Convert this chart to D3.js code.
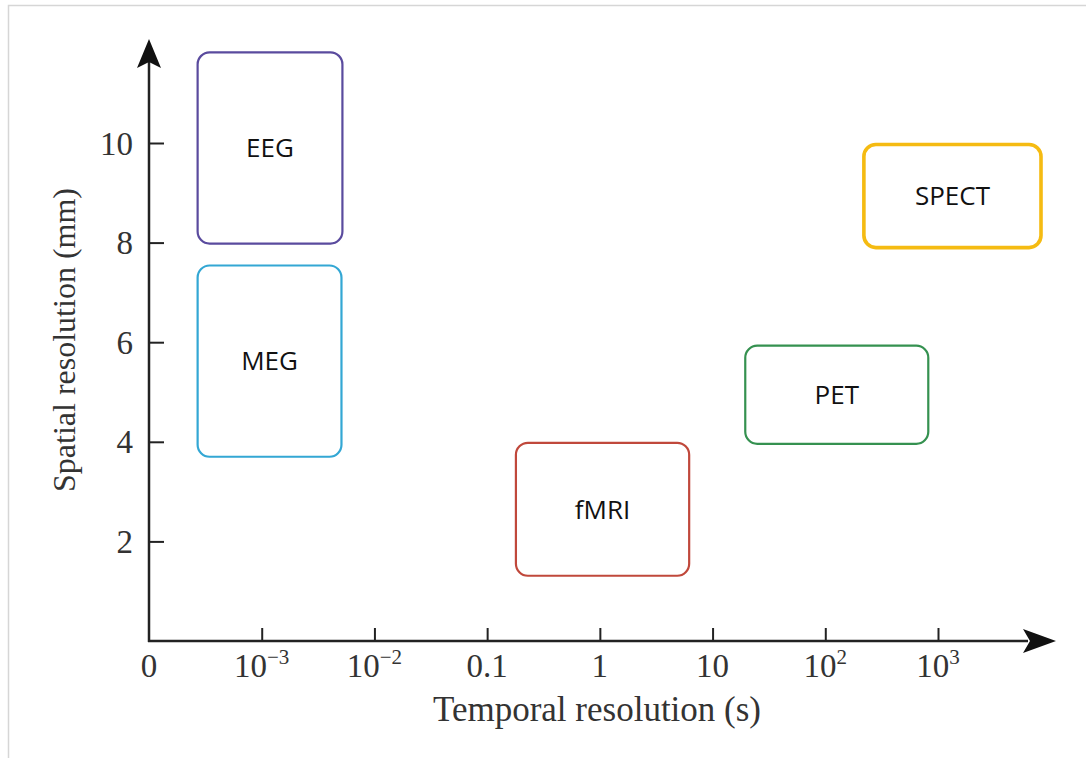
<!DOCTYPE html>
<html>
<head>
<meta charset="utf-8">
<script src="https://cdn.jsdelivr.net/npm/d3@7"></script>
<style>
  body { margin: 0; background: #fff; }
</style>
</head>
<body>
<div id="vizArea"></div>
<script>
// techniques and their ranges (time in seconds, space in mm)
var techniques = ["EEG", "MEG", "fMRI", "PET", "SPECT"];
var timeMin = [0.00027, 0.00027, 0.18, 19.5, 220];
var timeMax = [0.0052, 0.0051, 6.2, 820, 8200];
var spaceMin = [7.98, 3.7, 1.31, 3.96, 7.9];
var spaceMax = [11.82, 7.54, 3.98, 5.93, 9.97];
var colors = ["#5a4b9e", "#33a7d4", "#c0483b", "#359150", "#f5bb12"];
var strokeW = [2.2, 2.2, 2.2, 2.2, 3.6];

var xTickVals = [1e-4, 1e-3, 1e-2, 0.1, 1, 10, 100, 1000];
var xTickLabels = ["0", "10|−3", "10|−2", "0.1", "1", "10", "10|2", "10|3"];
var yTickVals = [2, 4, 6, 8, 10];

var W = 1086, H = 758;
var canvas = d3.select("#vizArea")
  .append("svg")
    .attr("width", W)
    .attr("height", H);

// faint frame of the original picture
canvas.append("path")
  .attr("d", "M8.5,758 L8.5,5.5 L1086,5.5")
  .attr("fill", "none")
  .attr("stroke", "#d6d6d6")
  .attr("stroke-width", 1.5);

var x = d3.scaleLog().domain([1e-4, 1e3]).range([149, 938]);
var y = d3.scaleLinear().domain([0, 10]).range([641, 143]);

var serif = "'Liberation Serif', 'DejaVu Serif', serif";
var sans = "'Open Sans', 'Noto Sans', sans-serif";

// boxes
var boxes = canvas.append("g");
techniques.forEach(function (name, i) {
  var x0 = x(timeMin[i]), x1 = x(timeMax[i]);
  var y0 = y(spaceMax[i]), y1 = y(spaceMin[i]);
  boxes.append("rect")
    .attr("x", x0)
    .attr("y", y0)
    .attr("width", x1 - x0)
    .attr("height", y1 - y0)
    .attr("rx", 12)
    .attr("ry", 12)
    .attr("fill", "none")
    .attr("stroke", colors[i])
    .attr("stroke-width", strokeW[i]);
  boxes.append("text")
    .attr("x", (x0 + x1) / 2)
    .attr("y", (y0 + y1) / 2)
    .attr("dy", "0.36em")
    .attr("text-anchor", "middle")
    .attr("font-family", sans)
    .attr("font-size", 26)
    .attr("fill", "#111")
    .text(name);
});

// x axis
var xAxis = d3.axisTop(x)
  .tickValues(xTickVals.slice(1))
  .tickSize(13)
  .tickFormat("");
var gx = canvas.append("g")
  .attr("transform", "translate(0," + y(0) + ")")
  .call(xAxis);
gx.select(".domain").remove();
gx.selectAll(".tick line").attr("stroke", "#222").attr("stroke-width", 2);

canvas.append("line")
  .attr("x1", x(1e-4) - 1).attr("x2", 1028)
  .attr("y1", y(0)).attr("y2", y(0))
  .attr("stroke", "#222").attr("stroke-width", 2.5);
canvas.append("path")
  .attr("d", "M1056," + y(0) + " L1023," + (y(0) - 12) + " L1030," + y(0) + " L1023," + (y(0) + 12) + " Z")
  .attr("fill", "#111");

var xl = canvas.append("g");
xTickVals.forEach(function (v, i) {
  var parts = xTickLabels[i].split("|");
  var t = xl.append("text")
    .attr("x", x(v))
    .attr("y", 677)
    .attr("text-anchor", "middle")
    .attr("font-family", serif)
    .attr("font-size", 33)
    .attr("fill", "#333");
  t.append("tspan").text(parts[0]);
  if (parts[1]) {
    t.append("tspan")
      .attr("dy", -13)
      .attr("font-size", 21)
      .text(parts[1]);
  }
});

canvas.append("text")
  .attr("x", 597)
  .attr("y", 721)
  .attr("text-anchor", "middle")
  .attr("font-family", serif)
  .attr("font-size", 35)
  .attr("fill", "#333")
  .text("Temporal resolution (s)");

// y axis
var yAxis = d3.axisRight(y)
  .tickValues(yTickVals)
  .tickSize(15)
  .tickFormat("");
var gy = canvas.append("g")
  .attr("transform", "translate(" + x(1e-4) + ",0)")
  .call(yAxis);
gy.select(".domain").remove();
gy.selectAll(".tick line").attr("stroke", "#222").attr("stroke-width", 2);

canvas.append("line")
  .attr("x1", x(1e-4)).attr("x2", x(1e-4))
  .attr("y1", y(0) + 1).attr("y2", 62)
  .attr("stroke", "#222").attr("stroke-width", 2.5);
canvas.append("path")
  .attr("d", "M" + x(1e-4) + ",39 L" + (x(1e-4) - 12) + ",68 L" + x(1e-4) + ",62 L" + (x(1e-4) + 12) + ",68 Z")
  .attr("fill", "#111");

canvas.append("g").selectAll("text")
  .data(yTickVals)
  .join("text")
    .attr("x", 133)
    .attr("y", function (d) { return y(d); })
    .attr("dy", "0.35em")
    .attr("text-anchor", "end")
    .attr("font-family", serif)
    .attr("font-size", 33)
    .attr("fill", "#333")
    .text(function (d) { return d; });

canvas.append("text")
  .attr("transform", "translate(75,340) rotate(-90)")
  .attr("text-anchor", "middle")
  .attr("font-family", serif)
  .attr("font-size", 32)
  .attr("fill", "#333")
  .text("Spatial resolution (mm)");
</script>
</body>
</html>
